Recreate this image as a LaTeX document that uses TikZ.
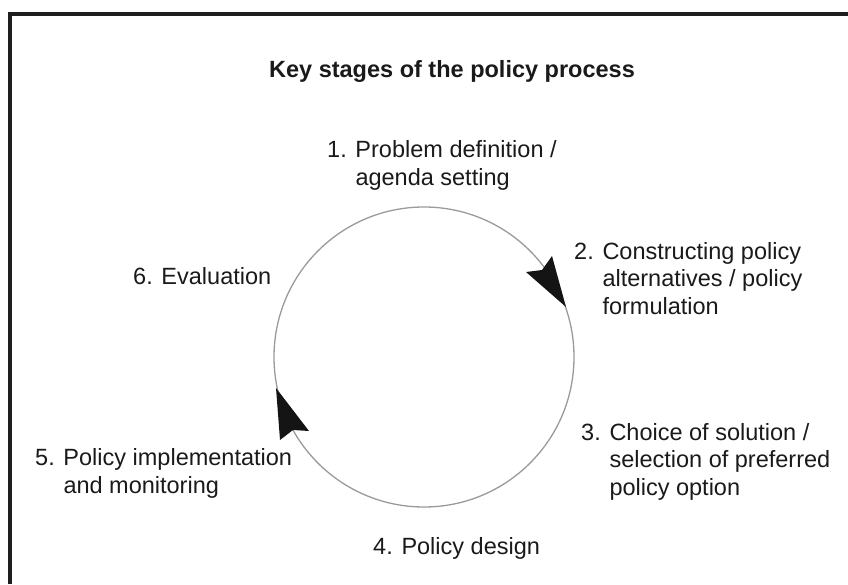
\documentclass[tikz,border=0pt]{standalone}
\usepackage{fontspec}
\setmainfont{Liberation Sans}
\definecolor{framegray}{HTML}{1E1E1E}
\definecolor{inkgray}{HTML}{1A1A1A}
\definecolor{ringgray}{HTML}{9A9A9A}
\definecolor{headblack}{HTML}{141414}
\begin{document}
\begin{tikzpicture}[x=1pt,y=-1pt,
  frame/.style={draw=framegray, line width=4pt},
  heading/.style={anchor=base, inner sep=0pt, text=inkgray,
    font=\fontsize{23.5}{27}\selectfont\bfseries},
  % multi-line labels are placed by the baseline of their last line
  stage/.style={anchor=base west, inner sep=0pt, align=left, text=inkgray,
    font=\fontsize{23.5}{27.2}\selectfont},
  ring/.style={circle, draw=ringgray, line width=1.3pt, inner sep=0pt,
    minimum size=300pt},
  head/.style={fill=headblack}]
\useasboundingbox (0,0) rectangle (848,584);

% outer frame (open towards the right and bottom)
\draw[frame] (10,584) -- (10,13.5) -- (848,13.5);

\node[heading] (title) at (452,77) {Key stages of the policy process};

% the cycle and its two arrowheads
\node[ring] (ring) at (424,357) {};
\fill[head] (566,307) -- (552,256) -- (542,270) -- (526,272) -- cycle;
\fill[head] (276,388) -- (280,440) -- (293,430) -- (309,431) -- cycle;

% stage labels
\node[stage] (s1) at (327,185) {1. Problem definition /\\\hphantom{1. }agenda setting};
\node[stage] (s2) at (574,314) {2. Constructing policy\\\hphantom{2. }alternatives / policy\\\hphantom{2. }formulation};
\node[stage] (s3) at (581,495) {3. Choice of solution /\\\hphantom{3. }selection of preferred\\\hphantom{3. }policy option};
\node[stage] (s4) at (373,554) {4. Policy design};
\node[stage] (s5) at (35,493) {5. Policy implementation\\\hphantom{5. }and monitoring};
\node[stage] (s6) at (133,284) {6. Evaluation};
\end{tikzpicture}
\end{document}
